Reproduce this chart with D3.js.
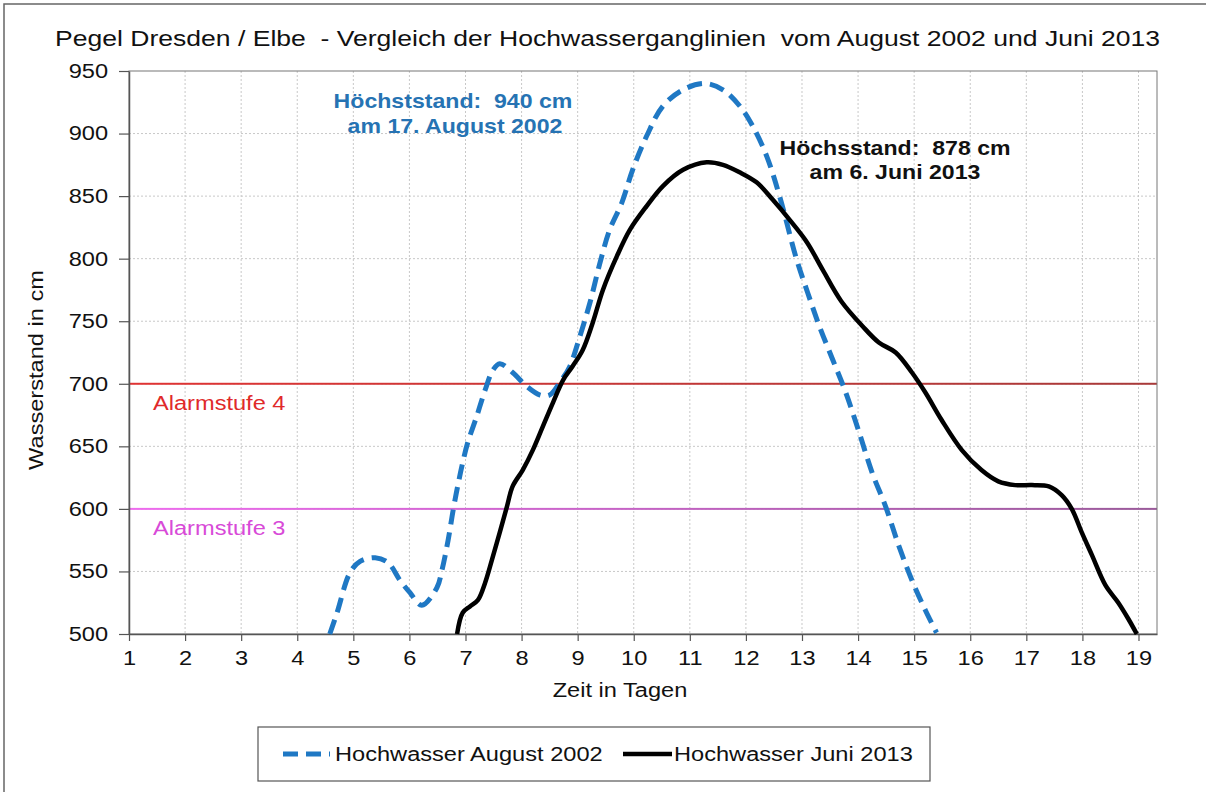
<!DOCTYPE html>
<html>
<head>
<meta charset="utf-8">
<script src="https://cdn.jsdelivr.net/npm/d3@7"></script>
<style>
  body { margin: 0; background: #fff; }
  text { font-family: "Liberation Sans", Arial, sans-serif; white-space: pre; }
</style>
</head>
<body>
<svg width="1206" height="792"></svg>
<script>
// Tage (x) und Wasserstand in cm (y)
var days2002 = [4.58, 4.71, 4.94, 5.12, 5.39, 5.62, 5.83, 6.01, 6.22, 6.49, 6.58, 6.69, 6.78, 6.86, 6.95, 7.04, 7.2, 7.35, 7.49, 7.61, 7.84, 8.09, 8.33, 8.5, 8.68, 8.85, 9.04, 9.22, 9.4, 9.57, 9.79, 9.98, 10.23, 10.52, 10.88, 11.27, 11.59, 11.89, 12.12, 12.37, 12.6, 12.9, 13.1, 13.31, 13.55, 13.78, 14.02, 14.25, 14.49, 14.73, 14.96, 15.2, 15.4];
var level2002 = [500, 517, 549, 558, 561, 557, 543, 533, 523, 537, 551, 575, 599, 618, 637, 653, 674, 695, 711, 716, 709, 698, 691, 691, 701, 713, 738, 765, 797, 823, 845, 871, 898, 922, 935, 940, 935, 922, 906, 882, 850, 800, 773, 746, 719, 693, 661, 629, 602, 570, 543, 519, 501];

var days2013 = [6.85, 6.95, 7.08, 7.22, 7.35, 7.47, 7.61, 7.74, 7.84, 8.02, 8.2, 8.38, 8.56, 8.74, 8.91, 9.09, 9.27, 9.45, 9.7, 9.93, 10.23, 10.52, 10.88, 11.3, 11.59, 11.89, 12.19, 12.48, 12.78, 13.09, 13.37, 13.7, 14.08, 14.37, 14.67, 14.96, 15.2, 15.49, 15.85, 16.2, 16.5, 16.8, 17.1, 17.4, 17.63, 17.81, 17.99, 18.17, 18.41, 18.64, 18.82, 18.97];
var level2013 = [500, 517, 522, 527, 541, 559, 581, 602, 618, 631, 647, 666, 685, 703, 714, 727, 749, 775, 802, 823, 842, 858, 871, 877, 875, 869, 861, 847, 831, 813, 791, 766, 746, 733, 725, 709, 693, 671, 647, 631, 622, 619, 619, 618, 611, 600, 581, 563, 539, 525, 512, 500];

var dayTicks = d3.range(1, 20);
var levelTicks = [500, 550, 600, 650, 700, 750, 800, 850, 900, 950];
var alarmLevels = [700, 600];
var alarmNames = ["Alarmstufe 4", "Alarmstufe 3"];
var seriesNames = ["Hochwasser August 2002", "Hochwasser Juni 2013"];

var svg = d3.select("svg");
var pLeft = 129, pRight = 1157, pTop = 71, pBottom = 634;
var stretch = 1.18; // Vorlage ist etwas in die Breite gezogen

var x = d3.scaleLinear().domain([1, 19.33]).range([pLeft, pRight]);
var y = d3.scaleLinear().domain([500, 950]).range([pBottom, pTop]);

function widen(sel, f) {
    f = f || stretch;
    sel.each(function () {
        var w = this.getComputedTextLength();
        d3.select(this).attr("textLength", w * f).attr("lengthAdjust", "spacingAndGlyphs");
    });
}

// äußerer Rahmen
svg.append("rect")
    .attr("x", 4).attr("y", 4).attr("width", 1230).attr("height", 820)
    .attr("fill", "none").attr("stroke", "#666").attr("stroke-width", 1.5);

svg.append("text")
    .attr("x", 55).attr("y", 46)
    .attr("textLength", 1105).attr("lengthAdjust", "spacingAndGlyphs")
    .attr("font-size", 22).attr("fill", "#111")
    .text("Pegel Dresden / Elbe  - Vergleich der Hochwasserganglinien  vom August 2002 und Juni 2013");

// Gitter
var grid = svg.append("g");
grid.selectAll(".vg").data(dayTicks.slice(1)).enter().append("line")
    .attr("x1", function (d) { return x(d); }).attr("x2", function (d) { return x(d); })
    .attr("y1", pTop).attr("y2", pBottom)
    .attr("stroke", "#c8c8c8").attr("stroke-dasharray", "2,2");
grid.selectAll(".hg").data(levelTicks.slice(1, -1)).enter().append("line")
    .attr("x1", pLeft).attr("x2", pRight)
    .attr("y1", function (d) { return y(d); }).attr("y2", function (d) { return y(d); })
    .attr("stroke", "#c8c8c8").attr("stroke-dasharray", "2,2");

// Alarmstufen
var defs = svg.append("defs");
var gradColors = [["#e03434", "#a83a3a"], ["#ee6cee", "#9a5a9a"]];
gradColors.forEach(function (c, i) {
    var g = defs.append("linearGradient").attr("id", "ag" + i)
        .attr("gradientUnits", "userSpaceOnUse")
        .attr("x1", pLeft).attr("x2", pRight).attr("y1", 0).attr("y2", 0);
    g.append("stop").attr("offset", "0").attr("stop-color", c[0]);
    g.append("stop").attr("offset", "1").attr("stop-color", c[1]);
});
alarmLevels.forEach(function (lv, i) {
    svg.append("rect")
        .attr("x", pLeft).attr("y", y(lv) - 1).attr("width", pRight - pLeft).attr("height", 2)
        .attr("fill", "url(#ag" + i + ")");
});
svg.append("text").attr("x", 153).attr("y", y(700) + 26)
    .attr("font-size", 20).attr("fill", "#e02a2a").text(alarmNames[0]).call(widen);
svg.append("text").attr("x", 153).attr("y", y(600) + 26)
    .attr("font-size", 20).attr("fill", "#d84ad8").text(alarmNames[1]).call(widen);

// Plotrahmen
svg.append("rect").attr("x", pLeft).attr("y", pTop)
    .attr("width", pRight - pLeft).attr("height", pBottom - pTop)
    .attr("fill", "none").attr("stroke", "#777").attr("stroke-width", 1);

// Achsen
var xAxis = svg.append("g").attr("transform", "translate(0," + pBottom + ")")
    .call(d3.axisBottom(x).tickValues(dayTicks).tickSize(7).tickPadding(10).tickSizeOuter(0));
var yAxis = svg.append("g").attr("transform", "translate(" + pLeft + ",0)")
    .call(d3.axisLeft(y).tickValues(levelTicks).tickSize(10).tickPadding(11).tickSizeOuter(0));
[xAxis, yAxis].forEach(function (a) {
    a.select(".domain").attr("stroke", "#555").attr("stroke-width", 1.5);
    a.selectAll(".tick line").attr("stroke", "#555").attr("stroke-width", 1.2);
    a.selectAll(".tick text").attr("font-size", 20).attr("fill", "#111")
        .attr("font-family", "Liberation Sans, Arial, sans-serif").call(widen);
});

svg.append("text").attr("x", 620).attr("y", 697).attr("text-anchor", "middle")
    .attr("font-size", 20).attr("fill", "#111").text("Zeit in Tagen").call(widen);
svg.append("text").attr("transform", "translate(43,370) rotate(-90)")
    .attr("text-anchor", "middle").attr("font-size", 20).attr("fill", "#111")
    .text("Wasserstand in cm").call(widen);

// Ganglinien
var line = d3.line()
    .x(function (d) { return x(d[0]); })
    .y(function (d) { return y(d[1]); })
    .curve(d3.curveCatmullRom.alpha(0.5));

svg.append("path")
    .datum(d3.zip(days2002, level2002))
    .attr("d", line)
    .attr("fill", "none").attr("stroke", "#1f78c4").attr("stroke-width", 5)
    .attr("stroke-dasharray", "15,8");

svg.append("path")
    .datum(d3.zip(days2013, level2013))
    .attr("d", line)
    .attr("fill", "none").attr("stroke", "#000").attr("stroke-width", 4.5)
    .attr("stroke-linejoin", "round");

// Beschriftung Höchststände
var a1 = svg.append("text").attr("text-anchor", "middle").attr("font-weight", "bold")
    .attr("font-size", 21).attr("fill", "#2673b3");
a1.append("tspan").attr("x", 453).attr("y", 108).text("Höchststand:  940 cm");
a1.append("tspan").attr("x", 455).attr("y", 133).text("am 17. August 2002");
a1.selectAll("tspan").call(widen, 1.1);

var a2 = svg.append("text").attr("text-anchor", "middle").attr("font-weight", "bold")
    .attr("font-size", 21).attr("fill", "#111");
a2.append("tspan").attr("x", 895).attr("y", 155).text("Höchsstand:  878 cm");
a2.append("tspan").attr("x", 895).attr("y", 179).text("am 6. Juni 2013");
a2.selectAll("tspan").call(widen, 1.1);

// Legende
var lg = svg.append("g");
lg.append("rect").attr("x", 258).attr("y", 727).attr("width", 672).attr("height", 54)
    .attr("fill", "#fff").attr("stroke", "#555").attr("stroke-width", 1.2);
lg.append("line").attr("x1", 283).attr("x2", 330).attr("y1", 754).attr("y2", 754)
    .attr("stroke", "#1f78c4").attr("stroke-width", 5).attr("stroke-dasharray", "15,8");
lg.append("text").attr("x", 335).attr("y", 761).attr("font-size", 20).attr("fill", "#111")
    .text(seriesNames[0]).call(widen);
lg.append("line").attr("x1", 623).attr("x2", 672).attr("y1", 754).attr("y2", 754)
    .attr("stroke", "#000").attr("stroke-width", 4.5);
lg.append("text").attr("x", 674).attr("y", 761).attr("font-size", 20).attr("fill", "#111")
    .text(seriesNames[1]).call(widen);
</script>
</body>
</html>
